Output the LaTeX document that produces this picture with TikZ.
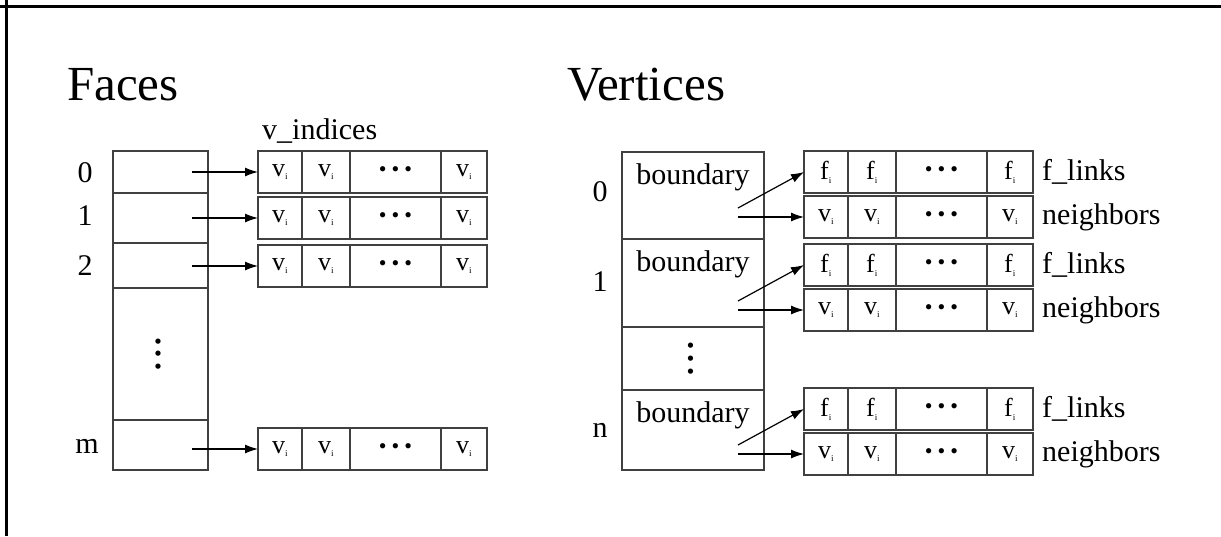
\documentclass[tikz,border=0pt]{standalone}
\usepackage{fontspec}
\setmainfont{Liberation Serif}
\usetikzlibrary{positioning, arrows.meta, calc}

\newcommand{\vsub}{v\textsubscript{\fontsize{9}{9}\selectfont i}}
\newcommand{\fsub}{f\textsubscript{\fontsize{9}{9}\selectfont i}}
\newcommand{\celldots}{{\fontsize{22}{22}\selectfont\textbullet\hspace{5pt}\textbullet\hspace{5pt}\textbullet}}
\newcommand{\colvdots}{\rotatebox{90}{\celldots}}

% one array row: name, top left corner, entry
\newcommand{\cellrow}[3]{%
	\node[cell, minimum width=44pt, anchor=north west] (#1a) at (#2) {#3};
	\node[cell, minimum width=48pt, right=0pt of #1a] (#1b) {#3};
	\node[cell, minimum width=91pt, right=0pt of #1b] (#1c) {\celldots};
	\node[cell, minimum width=46pt, right=0pt of #1c] (#1d) {#3};
}

\tikzset{
	cell/.style={rectangle, draw=black!75, line width=1.2pt, outer sep=0pt, inner sep=0pt, minimum height=42pt, font=\fontsize{26}{26}\selectfont},
	slot/.style={rectangle, draw=black!75, line width=1.2pt, outer sep=0pt, inner sep=0pt},
	lbl/.style={inner sep=0pt, font=\fontsize{30}{30}\selectfont},
	title/.style={inner sep=0pt, font=\fontsize{49}{49}\selectfont},
	ptr/.style={-{Latex[length=13pt,width=9pt]}, line width=1.2pt}
}

\begin{document}
\begin{tikzpicture}[x=1pt, y=-1pt]
		\useasboundingbox (0,0) rectangle (1221,536);
		% frame
		\draw[line width=2.5pt] (0,6.5) -- (1221,6.5);
		\draw[line width=2.5pt] (6.5,0) -- (6.5,536);
		% faces
		\node[title, anchor=base west] (faces) at (67,100) {Faces};
		\node[slot, minimum width=95pt, minimum height=42pt, anchor=north west] (fc0) at (113,151) {};
		\node[slot, minimum width=95pt, minimum height=50pt, below=0pt of fc0] (fc1) {};
		\node[slot, minimum width=95pt, minimum height=45pt, below=0pt of fc1] (fc2) {};
		\node[slot, minimum width=95pt, minimum height=132pt, below=0pt of fc2] (fcd) {\colvdots};
		\node[slot, minimum width=95pt, minimum height=50pt, below=0pt of fcd] (fcm) {};
		\node[lbl] (fl0) at (85,173) {0};
		\node[lbl] (fl1) at (85,216) {1};
		\node[lbl] (fl2) at (85,266) {2};
		\node[lbl] (flm) at (87,446) {m};
		% face arrays
		\cellrow{fa0}{258,151}{\vsub}
		\cellrow{fa1}{258,197}{\vsub}
		\cellrow{fa2}{258,245}{\vsub}
		\cellrow{fam}{258,428}{\vsub}
		\node[lbl, anchor=base west] (vidx) at ($(fa0a.north west)+(4,-12)$) {v\_indices};
		\draw[ptr] ($(fa0a.west)+(-66,0)$) -- (fa0a.west);
		\draw[ptr] ($(fa1a.west)+(-66,0)$) -- (fa1a.west);
		\draw[ptr] ($(fa2a.west)+(-66,0)$) -- (fa2a.west);
		\draw[ptr] ($(fama.west)+(-66,0)$) -- (fama.west);
		% vertices
		\node[title, anchor=base west] (verts) at (567,100) {Vertices};
		\node[slot, minimum width=142pt, minimum height=87pt, anchor=north west] (vc0) at (622,152) {};
		\node[slot, minimum width=142pt, minimum height=88pt, below=0pt of vc0] (vc1) {};
		\node[slot, minimum width=142pt, minimum height=63pt, below=0pt of vc1] (vcd) {\colvdots};
		\node[slot, minimum width=142pt, minimum height=80pt, below=0pt of vcd] (vcn) {};
		\node[lbl, below=11pt of vc0.north] (vb0) {boundary};
		\node[lbl, below=11pt of vc1.north] (vb1) {boundary};
		\node[lbl, below=11pt of vcn.north] (vbn) {boundary};
		\node[lbl] (vl0) at (600,192) {0};
		\node[lbl] (vl1) at (600,282) {1};
		\node[lbl] (vln) at (600,430) {n};
		% vertex arrays
		\cellrow{va0f}{804,151}{\fsub}
		\cellrow{va0v}{804,196}{\vsub}
		\cellrow{va1f}{804,244}{\fsub}
		\cellrow{va1v}{804,289}{\vsub}
		\cellrow{vanf}{804,388}{\fsub}
		\cellrow{vanv}{804,433}{\vsub}
		\node[lbl, right=9pt of va0fd] (fl0) {f\_links};
		\node[lbl, right=9pt of va0vd] (nb0) {neighbors};
		\node[lbl, right=9pt of va1fd] (fl1) {f\_links};
		\node[lbl, right=9pt of va1vd] (nb1) {neighbors};
		\node[lbl, right=9pt of vanfd] (fln) {f\_links};
		\node[lbl, right=9pt of vanvd] (nbn) {neighbors};
		% pointers
		\draw[ptr] ($(va0va.west)+(-66,-9)$) -- (va0fa.west);
		\draw[ptr] ($(va0va.west)+(-66,0)$) -- (va0va.west);
		\draw[ptr] ($(va1va.west)+(-66,-9)$) -- (va1fa.west);
		\draw[ptr] ($(va1va.west)+(-66,0)$) -- (va1va.west);
		\draw[ptr] ($(vanva.west)+(-66,-9)$) -- (vanfa.west);
		\draw[ptr] ($(vanva.west)+(-66,0)$) -- (vanva.west);
\end{tikzpicture}
\end{document}
